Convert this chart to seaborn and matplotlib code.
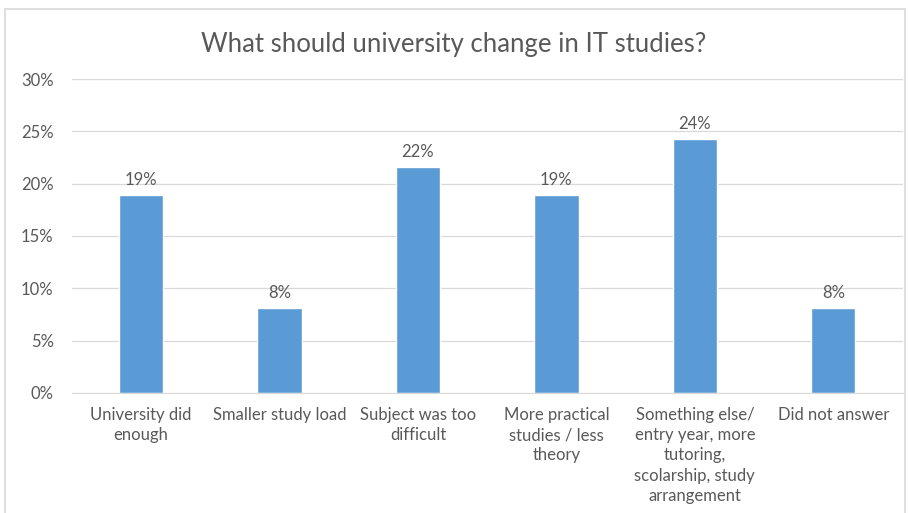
import numpy as np
import pandas as pd
import matplotlib.pyplot as plt
import matplotlib.patches as patches
import matplotlib.ticker as ticker
import seaborn as sns

# data
categories = [
    "University did\nenough",
    "Smaller study load",
    "Subject was too\ndifficult",
    "More practical\nstudies / less\ntheory",
    "Something else/\nentry year, more\ntutoring,\nscolarship, study\narrangement",
    "Did not answer",
]
shares = [18.9, 8.1, 21.6, 18.9, 24.3, 8.1]
labels = ["19%", "8%", "22%", "19%", "24%", "8%"]

df = pd.DataFrame({"category": categories, "share": shares})

sns.set_style("white")
plt.rcParams["font.family"] = ["Lato", "DejaVu Sans"]
text_col = "#595959"

fig = plt.figure(figsize=(9.08, 5.13), dpi=100)
ax = fig.add_axes([0.079, 0.234, 0.915, 0.612])

sns.barplot(data=df, x="category", y="share", color="#5B9BD5",
            saturation=1, width=0.32, ax=ax)

ax.set_ylim(0, 30)
ax.yaxis.set_major_locator(ticker.MultipleLocator(5))
ax.yaxis.set_major_formatter(ticker.FuncFormatter(lambda v, p: f"{v:.0f}%"))
ax.grid(axis="y", color="#D9D9D9", linewidth=0.9)
ax.set_axisbelow(True)
for s in ["top", "right", "left"]:
    ax.spines[s].set_visible(False)
ax.spines["bottom"].set_color("#D9D9D9")
ax.tick_params(axis="both", length=0, labelsize=12, colors=text_col)
ax.tick_params(axis="y", pad=13)
ax.tick_params(axis="x", pad=10)
for t in ax.get_xticklabels():
    t.set_linespacing(1.33)
ax.set_xlabel("")
ax.set_ylabel("")

ax.bar_label(ax.containers[0], labels=labels, padding=5, fontsize=12, color=text_col)

fig.text(0.5, 0.914, "What should university change in IT studies?",
         ha="center", va="center", fontsize=18.5, color=text_col)

# chart border
fig.patches.append(patches.Rectangle((5 / 908, -0.05), 900 / 908, 1.05 - 9 / 513,
                                     transform=fig.transFigure, fill=False,
                                     edgecolor="#D9D9D9", linewidth=1.2))

fig.savefig("out.png", dpi=100)
